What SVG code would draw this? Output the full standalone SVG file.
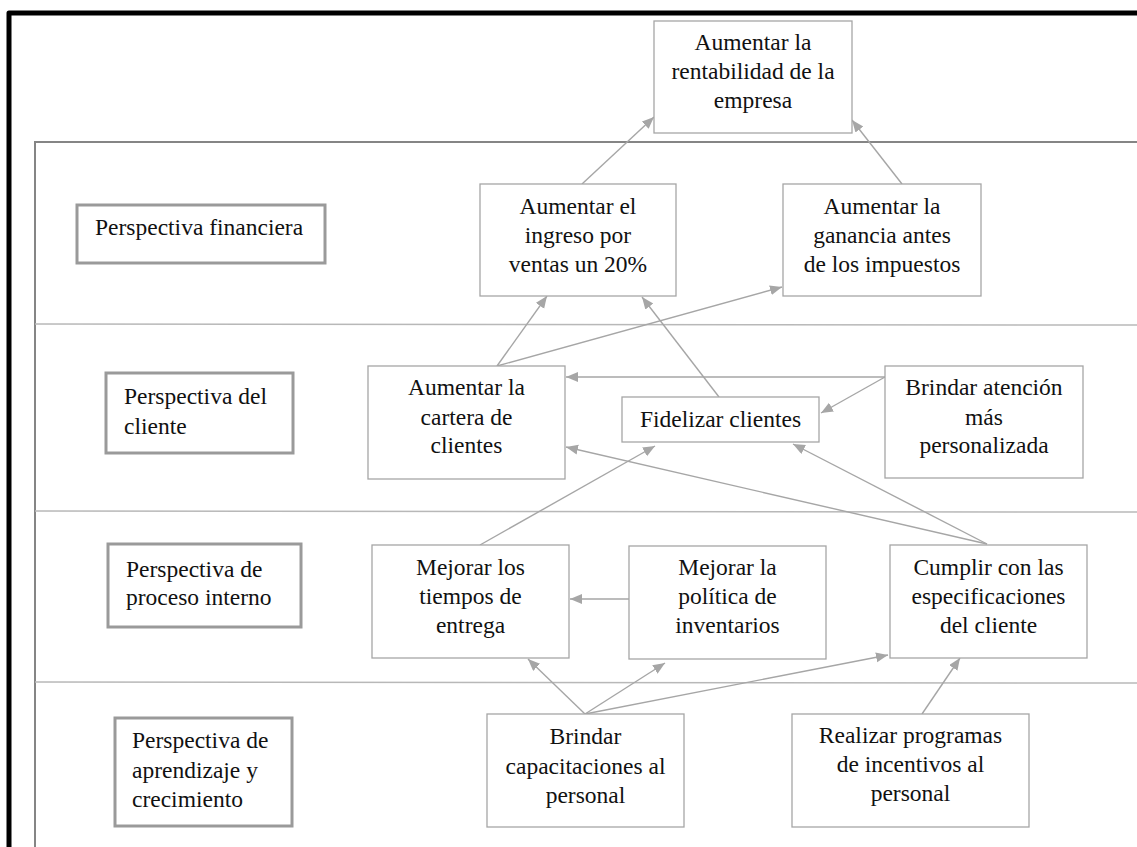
<svg xmlns="http://www.w3.org/2000/svg" width="1137" height="847" viewBox="0 0 1137 847">
<defs>
<style>
text{font-family:'Liberation Serif','Tinos','DejaVu Serif','Times New Roman',serif;font-size:23.5px;fill:#111}
.c{text-anchor:middle}
.node{fill:#fff;stroke:#a6a6a6;stroke-width:1.3}
.persp{fill:#fff;stroke:#9a9a9a;stroke-width:3}
.div{stroke:#b8b8b8;stroke-width:1.5;fill:none}
.arr{stroke:#a6a6a6;stroke-width:1.4;fill:none;marker-end:url(#ah)}
</style>
<marker id="ah" markerUnits="userSpaceOnUse" markerWidth="14" markerHeight="12" refX="12" refY="5" orient="auto">
<path d="M0,0 L12,5 L0,10 Z" fill="#a6a6a6"/>
</marker>
</defs>
<rect width="1137" height="847" fill="#fff"/>
<path d="M9,847 V13 H1140" fill="none" stroke="#000" stroke-width="5" stroke-linejoin="round"/>
<path d="M35,847 V142 H1140" fill="none" stroke="#858585" stroke-width="2"/>
<g id="dividers">
<line class="div" x1="35" y1="324" x2="1137" y2="325"/>
<line class="div" x1="35" y1="511" x2="1137" y2="512"/>
<line class="div" x1="35" y1="682" x2="1137" y2="683"/>
</g>
<g font-family="Liberation Serif, Tinos, DejaVu Serif, serif">
<g id="p1"><rect class="persp" x="77" y="205" width="248" height="58"/><text x="95" y="235">Perspectiva financiera</text></g>
<g id="p2"><rect class="persp" x="106" y="373" width="187" height="80"/><text x="124" y="404">Perspectiva del</text><text x="124" y="434">cliente</text></g>
<g id="p3"><rect class="persp" x="108" y="544" width="193" height="83"/><text x="126" y="577">Perspectiva de</text><text x="126" y="605">proceso interno</text></g>
<g id="p4"><rect class="persp" x="115" y="718" width="177" height="108"/><text x="132" y="748">Perspectiva de</text><text x="132" y="778">aprendizaje y</text><text x="132" y="807">crecimiento</text></g>
<g id="connectors">
<line class="arr" x1="582" y1="184" x2="654" y2="117"/>
<line class="arr" x1="902" y1="184" x2="852" y2="120"/>
<line class="arr" x1="497" y1="366" x2="547" y2="296"/>
<line class="arr" x1="497" y1="366" x2="782" y2="287"/>
<line class="arr" x1="719" y1="397" x2="642" y2="297"/>
<line class="arr" x1="885" y1="377" x2="566" y2="377"/>
<line class="arr" x1="885" y1="377" x2="821" y2="413"/>
<line class="arr" x1="480" y1="545" x2="655" y2="446"/>
<line class="arr" x1="987" y1="544" x2="566" y2="447"/>
<line class="arr" x1="987" y1="544" x2="793" y2="444"/>
<line class="arr" x1="629" y1="599" x2="570" y2="599"/>
<line class="arr" x1="585" y1="714" x2="528" y2="659"/>
<line class="arr" x1="585" y1="714" x2="665" y2="663"/>
<line class="arr" x1="585" y1="714" x2="888" y2="655"/>
<line class="arr" x1="922" y1="714" x2="960" y2="658"/>
</g>
<g id="nA"><rect class="node" x="654" y="21" width="198" height="112"/><text class="c" x="753" y="50">Aumentar la</text><text class="c" x="753" y="79">rentabilidad de la</text><text class="c" x="753" y="108">empresa</text></g>
<g id="nB"><rect class="node" x="480" y="184" width="196" height="112"/><text class="c" x="578" y="214">Aumentar el</text><text class="c" x="578" y="243">ingreso por</text><text class="c" x="578" y="271.5">ventas un 20%</text></g>
<g id="nC"><rect class="node" x="783" y="184" width="198" height="112"/><text class="c" x="882" y="214">Aumentar la</text><text class="c" x="882" y="243">ganancia antes</text><text class="c" x="882" y="271.5">de los impuestos</text></g>
<g id="nD"><rect class="node" x="368" y="366" width="197" height="113"/><text class="c" x="466.5" y="395">Aumentar la</text><text class="c" x="466.5" y="425">cartera de</text><text class="c" x="466.5" y="453">clientes</text></g>
<g id="nE"><rect class="node" x="622" y="397" width="197" height="45"/><text class="c" x="720.5" y="427">Fidelizar clientes</text></g>
<g id="nF"><rect class="node" x="885" y="366" width="198" height="112"/><text class="c" x="984" y="395">Brindar atención</text><text class="c" x="984" y="425">más</text><text class="c" x="984" y="453">personalizada</text></g>
<g id="nG"><rect class="node" x="372" y="545" width="197" height="113"/><text class="c" x="470.5" y="575">Mejorar los</text><text class="c" x="470.5" y="604">tiempos de</text><text class="c" x="470.5" y="633">entrega</text></g>
<g id="nH"><rect class="node" x="629" y="546" width="197" height="113"/><text class="c" x="727.5" y="575">Mejorar la</text><text class="c" x="727.5" y="604">política de</text><text class="c" x="727.5" y="633">inventarios</text></g>
<g id="nI"><rect class="node" x="890" y="545" width="197" height="113"/><text class="c" x="988.5" y="575">Cumplir con las</text><text class="c" x="988.5" y="604">especificaciones</text><text class="c" x="988.5" y="633">del cliente</text></g>
<g id="nJ"><rect class="node" x="487" y="714" width="197" height="113"/><text class="c" x="585.5" y="744">Brindar</text><text class="c" x="585.5" y="774">capacitaciones al</text><text class="c" x="585.5" y="803">personal</text></g>
<g id="nK"><rect class="node" x="792" y="714" width="237" height="113"/><text class="c" x="910.5" y="743">Realizar programas</text><text class="c" x="910.5" y="772">de incentivos al</text><text class="c" x="910.5" y="801">personal</text></g>
</g>
</svg>
